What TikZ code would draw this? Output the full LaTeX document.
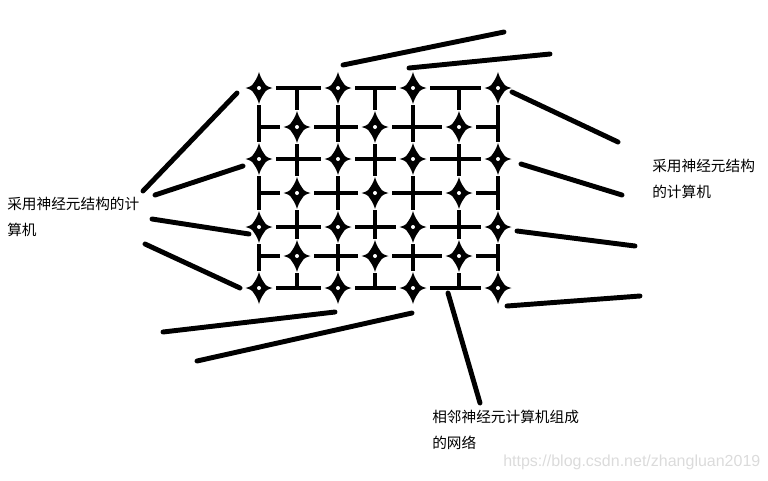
\documentclass[tikz,border=0pt]{standalone}
\usepackage{fontspec}
\newfontfamily\cjk{Noto Sans CJK SC}
\newfontfamily\wmfont{Liberation Sans}
\begin{document}
\begin{tikzpicture}[x=0.75pt,y=-0.75pt,
  gridline/.style={line width=3.7pt},
  outline/.style={line width=3.7pt, line cap=round},
  starnode/.style={circle, minimum size=26pt, inner sep=0pt, outer sep=0pt},
  lbl/.style={font=\cjk\fontsize{11pt}{19.5pt}\selectfont, align=left, inner sep=0pt, anchor=west},
  wm/.style={font=\wmfont\fontsize{12pt}{14pt}\selectfont, text=gray!28, inner sep=0pt, anchor=west}]
\useasboundingbox (0,0) rectangle (768,480);
% grid points: stars where i+j even
\foreach \x [count=\i] in {259,297,338,375,413,459,498} {
  \foreach \y [count=\j] in {88,127,159,193,227,256,288} {
    \pgfmathtruncatemacro\stpar{mod(\i+\j,2)}
    \ifnum\stpar=0
      \node[starnode] (g-\i-\j) at (\x,\y) {};
      \fill[shift={(\x,\y)}] (13.5,0)
        .. controls (6,2) and (6,4) .. (5.2,5.2) .. controls (4.5,6.5) and (2,9) .. (0,16)
        .. controls (-2,9) and (-4.5,6.5) .. (-5.2,5.2) .. controls (-6,4) and (-6,2) .. (-13.5,0)
        .. controls (-6,-2) and (-6,-4) .. (-5.2,-5.2) .. controls (-4.5,-6.5) and (-2,-9) .. (0,-16)
        .. controls (2,-9) and (4.5,-6.5) .. (5.2,-5.2) .. controls (6,-4) and (6,-2) .. (13.5,0) -- cycle;
      \fill[white] (\x,\y) circle (2);
    \else
      \coordinate (g-\i-\j) at (\x,\y);
    \fi
  }
}
% grid segments
\foreach \i in {1,...,7} {
  \foreach \j [evaluate=\j as \jn using int(\j+1)] in {1,...,6} {
    \draw[gridline] (g-\i-\j) -- (g-\i-\jn);
    \draw[gridline] (g-\j-\i) -- (g-\jn-\i);
  }
}
% outer lines
\coordinate (t1a) at (343,65);  \coordinate (t1b) at (504,32);
\coordinate (t2a) at (409,68);  \coordinate (t2b) at (550,54);
\coordinate (r1a) at (512,92);  \coordinate (r1b) at (618,142);
\coordinate (r2a) at (521,164); \coordinate (r2b) at (622,195);
\coordinate (r3a) at (517,231); \coordinate (r3b) at (635,246);
\coordinate (r4a) at (507,306); \coordinate (r4b) at (640,296);
\coordinate (l1a) at (237,93);  \coordinate (l1b) at (143,191);
\coordinate (l2a) at (243,166); \coordinate (l2b) at (155,195);
\coordinate (l3a) at (249,234); \coordinate (l3b) at (152,219);
\coordinate (l4a) at (240,288); \coordinate (l4b) at (145,244);
\coordinate (b1a) at (335,312); \coordinate (b1b) at (163,332);
\coordinate (b2a) at (412,313); \coordinate (b2b) at (197,361);
\coordinate (b3a) at (448,293); \coordinate (b3b) at (480,403);
\foreach \n in {t1,t2,r1,r2,r3,r4,l1,l2,l3,l4,b1,b2,b3}
  \draw[outline] (\n a) -- (\n b);
% labels
\node[lbl] (lt) at (7,217) {采用神经元结构的计\\算机};
\node[lbl] (rt) at (652,178.5) {采用神经元结构\\的计算机};
\node[lbl] (bt) at (432,430) {相邻神经元计算机组成\\的网络};
\node[wm] (wmk) at (503,462) {https://blog.csdn.net/zhangluan2019};
\end{tikzpicture}
\end{document}
